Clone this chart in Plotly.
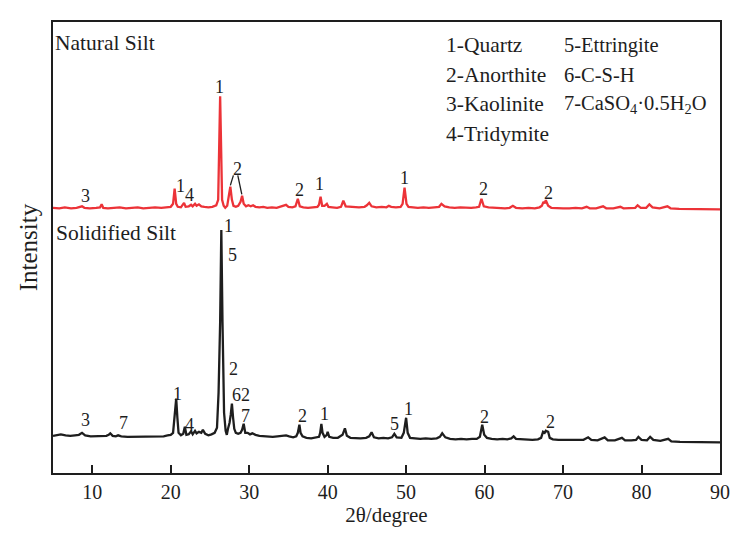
import plotly.graph_objects as go

# ---------------- data (2θ in degrees, intensity in arbitrary units, curves already offset) -------------
natural_theta = [5.0, 5.8, 6.5, 7.3, 8.0, 8.4, 8.7, 9.0, 9.7, 10.5, 11.0, 11.2, 11.4, 12.0, 12.8, 13.5, 14.3,
                 15.0, 15.8, 16.5, 17.3, 18.0, 18.8, 19.5, 20.0, 20.3, 20.5, 20.7, 20.9, 21.3, 21.7, 21.9,
                 22.3, 22.6, 22.8, 23.1, 23.3, 23.6, 23.9, 24.3, 24.8, 25.3, 25.8, 26.05, 26.3, 26.55, 26.75,
                 26.95, 27.2, 27.45, 27.6, 27.8, 28.0, 28.3, 28.6, 28.9, 29.1, 29.3, 29.6, 29.9, 30.2, 30.5,
                 30.8, 31.3, 31.8, 32.3, 32.9, 33.5, 34.0, 34.4, 34.7, 35.0, 35.5, 35.9, 36.2, 36.45, 36.9,
                 37.5, 38.1, 38.7, 38.9, 39.1, 39.3, 39.6, 39.9, 40.1, 40.6, 41.2, 41.7, 42.0, 42.3, 42.8,
                 43.4, 44.0, 44.7, 45.0, 45.3, 45.6, 46.2, 46.9, 47.5, 47.8, 48.1, 48.7, 49.3, 49.55, 49.8,
                 50.05, 50.3, 50.8, 51.5, 52.2, 52.9, 53.6, 54.2, 54.5, 54.9, 55.5, 56.2, 56.9, 57.6, 58.3,
                 58.9, 59.3, 59.6, 59.9, 60.5, 61.2, 61.9, 62.6, 63.2, 63.6, 64.0, 64.8, 65.6, 66.4, 67.0,
                 67.3, 67.5, 67.65, 67.8, 68.1, 68.5, 69.2, 70.0, 70.8, 71.6, 72.4, 73.0, 73.4, 74.2, 75.1,
                 75.5, 76.4, 77.3, 77.7, 78.6, 79.2, 79.5, 79.9, 80.6, 81.0, 81.4, 82.3, 83.3, 83.7, 84.8,
                 86.0, 87.2, 88.5, 90.0]
natural_int = [264, 263.5, 264.5, 263.5, 264, 264.5, 265.5, 264, 263.5, 264, 264.5, 267.5, 264, 263.5, 264,
               264.5, 263.5, 264, 264.5, 263.5, 264, 264.5, 264, 264.5, 265, 268, 283, 268, 265, 264.5, 269,
               265, 265.5, 267, 265.5, 268, 266, 267.5, 265.5, 265, 264.5, 265, 266.5, 272, 375, 272, 266,
               264, 266, 278, 285, 272, 266, 265, 266, 270, 276, 268, 265.5, 266.5, 265.5, 266.5, 265, 264.5,
               265, 264, 264.5, 264, 265, 266, 267, 265, 264.5, 265.5, 273, 265.5, 264.5, 264, 264.5, 265,
               267, 275, 266, 266, 268, 265, 264.5, 264, 265, 271, 265.5, 265, 264.5, 264.5, 265, 266.5, 269,
               265.5, 264.5, 265, 264.5, 266, 265, 264.5, 265, 268, 284, 268, 265, 264.5, 264, 264.5, 264,
               264.5, 265, 268, 265.5, 264.5, 264, 264.5, 264, 264, 264.5, 265, 273, 265.5, 264.5, 264, 264,
               263.5, 264, 266, 264, 263.5, 264, 263.5, 264.5, 266, 270, 268.5, 271.5, 266, 264, 263.5,
               263.5, 263.5, 264, 263.5, 265, 263.5, 263.5, 265.5, 263.5, 263.5, 265, 263.5, 263.5, 264,
               266.5, 264, 264, 267.5, 264.5, 263.5, 265.5, 263.5, 263, 263, 263, 263, 262.5]

solid_theta = [5.0, 5.5, 6.0, 6.6, 7.2, 7.8, 8.3, 8.7, 9.1, 9.8, 10.5, 11.2, 11.8, 12.1, 12.3, 12.6, 13.0,
               13.3, 13.7, 14.5, 15.3, 16.1, 16.9, 17.7, 18.4, 19.1, 19.6, 20.0, 20.3, 20.5, 20.7, 20.85,
               21.0, 21.3, 21.6, 21.8, 22.0, 22.3, 22.6, 22.8, 23.1, 23.3, 23.6, 23.9, 24.1, 24.4, 24.8,
               25.2, 25.6, 25.9, 26.1, 26.3, 26.45, 26.6, 26.8, 27.0, 27.15, 27.3, 27.5, 27.65, 27.8, 27.95,
               28.1, 28.3, 28.6, 28.9, 29.1, 29.3, 29.5, 29.8, 30.1, 30.4, 30.8, 31.3, 31.8, 32.4, 33.0,
               33.6, 34.2, 34.7, 35.1, 35.6, 36.0, 36.2, 36.4, 36.55, 36.8, 37.3, 37.9, 38.5, 38.9, 39.05,
               39.2, 39.35, 39.6, 39.9, 40.0, 40.2, 40.7, 41.3, 41.7, 41.9, 42.2, 42.45, 42.9, 43.5, 44.2,
               44.9, 45.3, 45.6, 45.9, 46.5, 47.1, 47.7, 48.2, 48.5, 48.8, 49.4, 49.7, 50.0, 50.2, 50.5,
               51.1, 51.8, 52.5, 53.2, 53.9, 54.3, 54.6, 55.0, 55.6, 56.3, 57.0, 57.7, 58.4, 59.0, 59.4,
               59.7, 59.95, 60.3, 60.9, 61.6, 62.3, 62.9, 63.4, 63.7, 64.0, 64.7, 65.4, 66.1, 66.8, 67.2,
               67.45, 67.65, 67.8, 68.1, 68.3, 68.7, 69.4, 70.2, 71.0, 71.8, 72.6, 73.2, 73.6, 74.4, 75.3,
               75.7, 76.6, 77.5, 77.9, 78.7, 79.3, 79.6, 80.0, 80.7, 81.1, 81.5, 82.4, 83.4, 83.8, 84.9,
               86.0, 87.1, 88.3, 89.2, 90.0]
solid_int = [37, 38, 38.5, 37.5, 37, 37.5, 38, 40, 37.5, 36.5, 36.5, 36.5, 37, 38, 39.5, 37, 36.5, 37.5,
             36.5, 36, 36, 36.5, 36, 36.5, 36, 36.5, 37.5, 38, 40, 55, 74, 55, 40, 37.5, 39, 46, 38, 38.5,
             41.5, 38.5, 42, 39.5, 41, 40, 43, 39, 37.5, 38.5, 40, 45, 80, 150, 242, 150, 60, 42, 38, 44, 50,
             58, 69, 55, 44, 40, 39, 40, 43, 49, 40, 40, 38.5, 39.5, 38, 37, 36.5, 36, 36, 36.5, 37, 37.5,
             36.5, 35.5, 36.5, 40, 48, 40, 36.5, 35, 34.5, 35, 36, 40, 49, 40, 36, 38, 41, 36, 35, 35, 36.5,
             38, 44.5, 37, 35, 34.5, 34.5, 35, 36.5, 40.5, 35.5, 34.5, 35, 34.5, 35.5, 39, 35.5, 35, 40, 55,
             40, 35, 34.5, 34, 34.5, 34, 34.5, 36, 39.5, 35.5, 34, 33.5, 34, 33.5, 34, 34, 36, 48, 38, 35,
             34, 33.5, 34, 33.5, 34.5, 36.5, 34, 33.5, 33.5, 33, 33.5, 35, 41, 40, 42, 41, 35, 33.5, 33, 33,
             33, 32.5, 33, 35.5, 33, 32.5, 35.5, 32.5, 32.5, 35, 32.5, 32.5, 33, 36, 33, 32.5, 36, 33, 32,
             34, 31.5, 31, 31, 31, 30.5, 30.5, 30.5]

# peak labels (phase numbers) and where they sit
natural_label_text = ["3", "1", "4", "1", "2", "2", "1", "1", "2", "2"]
natural_label_theta = [9.1, 21.2, 22.4, 26.2, 28.5, 36.45, 39.0, 49.8, 59.8, 68.2]
natural_label_int = [276, 286, 277, 384, 303, 281.7, 287.3, 294, 282.3, 279]

solid_label_text = ["1", "5", "2", "62", "7", "3", "7", "1", "4", "2", "1", "5", "1", "2", "2"]
solid_label_theta = [27.4, 27.9, 27.95, 28.9, 29.5, 9.2, 14.0, 20.85, 22.4, 36.75, 39.6, 48.55, 50.25, 60.0, 68.4]
solid_label_int = [246.3, 217.3, 103.3, 77.3, 56.7, 53, 49.7, 79, 47.3, 56.3, 58.3, 48.3, 64, 55.7, 50.7]

# leader lines from the "2" label to the two anorthite peaks (natural silt)
leader_theta = [[27.99, 27.6], [28.55, 29.06]]
leader_int = [[296.3, 286.3], [296.3, 277.3]]

phase_col1 = ["1-Quartz", "2-Anorthite", "3-Kaolinite", "4-Tridymite"]
phase_col2 = ["5-Ettringite", "6-C-S-H", "7-CaSO<sub>4</sub>·0.5H<sub>2</sub>O"]
phase_rows_int = [425.7, 396.3, 367.3, 337.7]

x_ticks = [10, 20, 30, 40, 50, 60, 70, 80, 90]

FONT = "Liberation Serif, Times New Roman, serif"
RED = "#EC3338"
BLACK = "#1E1E1E"

fig = go.Figure()
fig.add_trace(go.Scatter(x=natural_theta, y=natural_int, mode="lines",
                         line=dict(color=RED, width=2.3), showlegend=False))
fig.add_trace(go.Scatter(x=solid_theta, y=solid_int, mode="lines",
                         line=dict(color=BLACK, width=2.3), showlegend=False))

for lt, li in zip(leader_theta, leader_int):
    fig.add_trace(go.Scatter(x=lt, y=li, mode="lines", line=dict(color=BLACK, width=1.3),
                             showlegend=False, hoverinfo="skip"))

ann = []
for t, x, y in zip(natural_label_text, natural_label_theta, natural_label_int):
    ann.append(dict(x=x, y=y, text=t, showarrow=False, font=dict(size=18, color=BLACK, family=FONT)))
for t, x, y in zip(solid_label_text, solid_label_theta, solid_label_int):
    ann.append(dict(x=x, y=y, text=t, showarrow=False, font=dict(size=18, color=BLACK, family=FONT)))

ann.append(dict(x=5.0, y=428.3, text="Natural Silt", showarrow=False, xanchor="left",
                font=dict(size=21.5, color=BLACK, family=FONT)))
ann.append(dict(x=5.1, y=239, text="Solidified Silt", showarrow=False, xanchor="left",
                font=dict(size=21.5, color=BLACK, family=FONT)))
for t, y in zip(phase_col1, phase_rows_int):
    ann.append(dict(x=54.85, y=y, text=t, showarrow=False, xanchor="left",
                    font=dict(size=21.5, color=BLACK, family=FONT)))
for t, y in zip(phase_col2, phase_rows_int[:3]):
    ann.append(dict(x=69.85, y=y, text=t, showarrow=False, xanchor="left",
                    font=dict(size=20.5, color=BLACK, family=FONT)))

# the page body has an 8px default margin, so the figure is drawn 8px in from the top-left
fig.update_layout(
    width=734, height=526,
    margin=dict(l=45, r=21, t=12, b=57),
    paper_bgcolor="white", plot_bgcolor="white",
    font=dict(family=FONT, color=BLACK),
    annotations=ann,
    showlegend=False,
    xaxis=dict(range=[5, 90], tickvals=x_ticks, ticks="inside", ticklen=8, tickwidth=2,
               tickcolor=BLACK, showline=True, linecolor=BLACK, linewidth=2, mirror=True,
               showgrid=False, zeroline=False, tickfont=dict(size=20, family=FONT, color=BLACK),
               title=dict(text="2θ/degree", font=dict(size=21, family=FONT, color=BLACK), standoff=4)),
    yaxis=dict(range=[0, 449], showticklabels=False, ticks="", showline=True, linecolor=BLACK,
               linewidth=2, mirror=True, showgrid=False, zeroline=False,
               title=dict(text="Intensity", font=dict(size=25, family=FONT, color=BLACK), standoff=6)),
)

fig.write_html("out.html")
